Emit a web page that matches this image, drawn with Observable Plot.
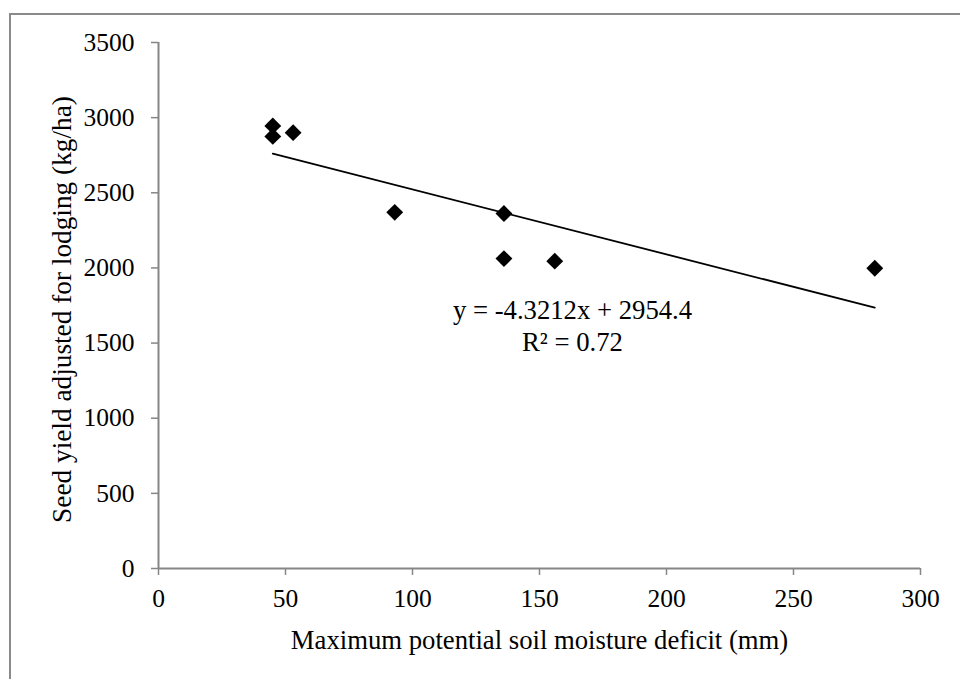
<!DOCTYPE html>
<html>
<head>
<meta charset="utf-8">
<script src="https://cdn.jsdelivr.net/npm/d3@7"></script>
<script src="https://cdn.jsdelivr.net/npm/@observablehq/plot@0.6"></script>
<style>
  html, body { margin: 0; padding: 0; overflow: hidden; background: white; }
  #wrap { position: relative; width: 960px; height: 679px; overflow: hidden; }
  #chart { position: absolute; left: 0; top: 0; }
  #frame { position: absolute; left: 9px; top: 13px; width: 1200px; height: 1200px;
           border-left: 2px solid #8a8a8a; border-top: 2px solid #8a8a8a; pointer-events: none; }
</style>
</head>
<body>
<div id="wrap"><div id="chart"></div><div id="frame"></div></div>
<script>
// Data
const deficit = [45, 45, 53, 93, 136, 136, 156, 282];          // Maximum potential soil moisture deficit (mm)
const seedYield = [2945, 2875, 2900, 2370, 2362, 2062, 2045, 1998]; // Seed yield adjusted for lodging (kg/ha)
const xTicks = [0, 50, 100, 150, 200, 250, 300];
const yTicks = [0, 500, 1000, 1500, 2000, 2500, 3000, 3500];
const slope = -4.3212;
const intercept = 2954.4;
const eqLines = ["y = -4.3212x + 2954.4", "R\u00b2 = 0.72"];
const eqX = [163, 163];
const eqY = [1717, 1506];
const xLabel = "Maximum potential soil moisture deficit (mm)";
const yLabel = "Seed yield adjusted for lodging (kg/ha)";

const points = deficit.map((d, i) => ({x: d, y: seedYield[i]}));
const xmin = d3.min(deficit), xmax = d3.max(deficit);
const trend = [xmin, xmax].map(x => ({x, y: slope * x + intercept}));
const eq = eqLines.map((t, i) => ({t, x: eqX[i], y: eqY[i]}));

const font = "Liberation Serif, Times New Roman, serif";
const axisColor = "#868686";
const tickFont = 25.5;
const titleFont = 26.7;

const chart = Plot.plot({
  width: 960,
  height: 679,
  marginLeft: 158,
  marginRight: 40,
  marginTop: 42,
  marginBottom: 111,
  style: {fontFamily: font, fontSize: "22px", color: "black", background: "transparent"},
  x: {domain: [0, 300]},
  y: {domain: [0, 3500]},
  marks: [
    Plot.axisX({ticks: xTicks, tickFormat: d => String(d), tickSize: 7, tickPadding: 13, stroke: axisColor,
                strokeWidth: 1.5, fill: "black", fontSize: tickFont, label: null}),
    Plot.axisY({ticks: yTicks, tickFormat: d => String(d), tickSize: 7, tickPadding: 17, stroke: axisColor,
                strokeWidth: 1.5, fill: "black", fontSize: tickFont, label: null}),
    Plot.ruleY([0], {stroke: axisColor, strokeWidth: 2}),
    Plot.ruleX([0], {stroke: axisColor, strokeWidth: 2}),
    Plot.line(trend, {x: "x", y: "y", stroke: "black", strokeWidth: 1.8}),
    Plot.dot(points, {x: "x", y: "y", symbol: "diamond2", r: 7.6, fill: "black", stroke: "none"}),
    Plot.text(eq, {x: "x", y: "y", text: "t", fontSize: titleFont, fill: "black", textAnchor: "middle", lineAnchor: "middle"}),
    Plot.text([xLabel], {frameAnchor: "bottom", dy: 72, fontSize: titleFont, fill: "black", textAnchor: "middle", lineAnchor: "middle"}),
    Plot.text([yLabel], {frameAnchor: "left", dx: -96, dy: 4, rotate: -90, fontSize: 27.3, fill: "black", textAnchor: "middle", lineAnchor: "middle"})
  ]
});
document.getElementById("chart").appendChild(chart);
</script>
</body>
</html>
